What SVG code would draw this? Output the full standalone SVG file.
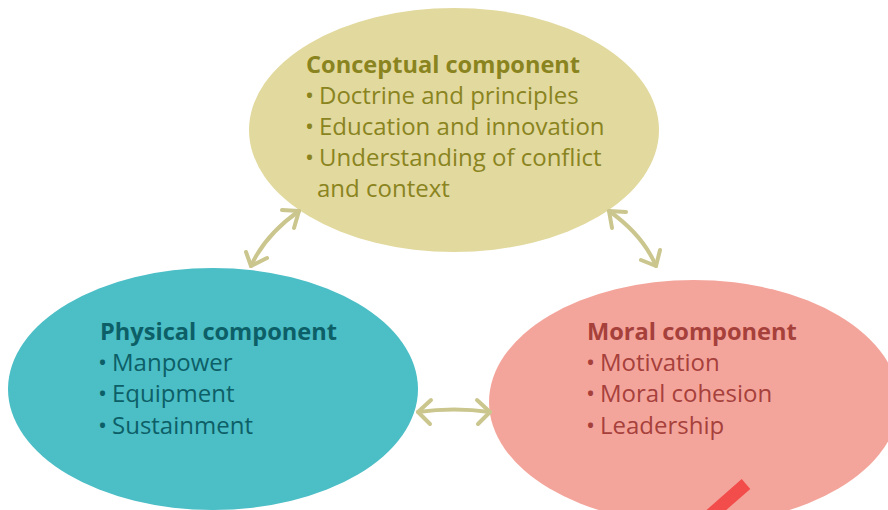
<svg xmlns="http://www.w3.org/2000/svg" width="888" height="510" viewBox="0 0 888 510">
<defs>
<style>
text{font-family:"Open Sans","Noto Sans","Liberation Sans",sans-serif;font-size:24px}
.t{font-weight:bold;font-size:23.6px}
.c{fill:#8a8420}
.p{fill:#0d5f67}
.m{fill:#a6403b}
.arr{fill:none;stroke:#cbc68e;stroke-width:4;stroke-linecap:round;stroke-linejoin:round}
</style>
</defs>
<rect width="888" height="510" fill="#ffffff"/>
<g id="conceptual">
<ellipse cx="454" cy="130" rx="205" ry="122" fill="#e2d99e"/>
<text class="c t" x="306" y="73">Conceptual component</text>
<text class="c" y="104"><tspan x="305">•</tspan><tspan x="319">Doctrine and principles</tspan></text>
<text class="c" y="135"><tspan x="305">•</tspan><tspan x="319">Education and innovation</tspan></text>
<text class="c" y="166"><tspan x="305">•</tspan><tspan x="319">Understanding of conflict</tspan></text>
<text class="c" x="317" y="197">and context</text>
</g>
<g id="physical">
<ellipse cx="213" cy="389" rx="205" ry="121" fill="#4bbec6"/>
<text class="p t" x="100" y="340">Physical component</text>
<text class="p" y="371"><tspan x="98">•</tspan><tspan x="112">Manpower</tspan></text>
<text class="p" y="402"><tspan x="98">•</tspan><tspan x="112">Equipment</tspan></text>
<text class="p" y="434"><tspan x="98">•</tspan><tspan x="112">Sustainment</tspan></text>
</g>
<g id="moral">
<ellipse cx="694" cy="402" rx="205" ry="122" fill="#f4a59b"/>
<text class="m t" x="587" y="340">Moral component</text>
<text class="m" y="371"><tspan x="586">•</tspan><tspan x="600">Motivation</tspan></text>
<text class="m" y="402"><tspan x="586">•</tspan><tspan x="600">Moral cohesion</tspan></text>
<text class="m" y="434"><tspan x="586">•</tspan><tspan x="600">Leadership</tspan></text>
</g>
<g id="connectors">
<path class="arr" d="M299,211 Q265,235 251,266"/>
<path class="arr" d="M282,210 L299,211 L294,228"/>
<path class="arr" d="M246,252 L251,266 L267,258"/>
<path class="arr" d="M609,211 Q643,235 656,266"/>
<path class="arr" d="M612,228 L609,211 L626,212"/>
<path class="arr" d="M660,250 L656,266 L641,260"/>
<path class="arr" d="M418,412 Q454,407 490,412"/>
<path class="arr" d="M431,400 L418,412 L430,424"/>
<path class="arr" d="M477,400 L490,412 L478,424"/>
</g>
<line x1="746" y1="484" x2="705" y2="520" stroke="#f24c4b" stroke-width="13"/>
</svg>
